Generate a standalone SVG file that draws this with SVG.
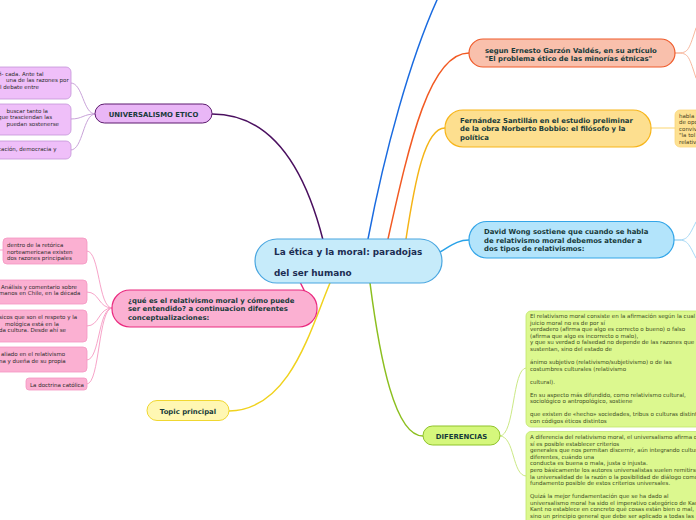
<svg xmlns="http://www.w3.org/2000/svg" width="696" height="520" viewBox="0 0 696 520">
<style>
.t{font-family:"DejaVu Sans",Verdana,sans-serif;font-weight:bold;fill:#173a3a;font-size:6.9px}
.c{font-family:"DejaVu Sans",Verdana,sans-serif;font-weight:bold;fill:#1c2d52;font-size:8.9px}
.s{font-family:"DejaVu Sans",Verdana,sans-serif;fill:#2b2b2b;font-size:5.5px}
.g{font-family:"DejaVu Sans",Verdana,sans-serif;fill:#3b4a22;font-size:5.55px}
.m{text-anchor:middle}
.cn path{fill:none;stroke-linecap:round}
</style>
<rect width="696" height="520" fill="#ffffff"/>
<g id="connectors" class="cn">
<path d="M323 240 C300 150 260 114 212 114" stroke="#4a0f5f" stroke-width="1.5"/>
<path d="M95 114 C83 114 83 83 71 83" stroke="#c9a3d9" stroke-width="1"/>
<path d="M95 114 C83 114 83 119 71 119" stroke="#c9a3d9" stroke-width="1"/>
<path d="M95 114 C83 114 83 150 71 150" stroke="#c9a3d9" stroke-width="1"/>
<path d="M300 282 L305 292" stroke="#ea2a7f" stroke-width="1.5"/>
<path d="M112 308 C98 308 100 251 87 251" stroke="#f7a4c9" stroke-width="1"/>
<path d="M112 308 C98 308 100 292 87 292" stroke="#f7a4c9" stroke-width="1"/>
<path d="M112 308 C98 308 100 326 87 326" stroke="#f7a4c9" stroke-width="1"/>
<path d="M112 308 C98 308 100 360 87 360" stroke="#f7a4c9" stroke-width="1"/>
<path d="M112 308 C98 308 100 384 87 384" stroke="#f7a4c9" stroke-width="1"/>
<path d="M0 250 L3 250" stroke="#f7a4c9" stroke-width="1"/>
<path d="M330 283 C310 330 290 410 229 411" stroke="#f0d21e" stroke-width="1.5"/>
<path d="M370 283 C380 360 395 436 423 436" stroke="#8cbf1f" stroke-width="1.5"/>
<path d="M500 436 C515 436 512 368 526 368" stroke="#cbe985" stroke-width="1"/>
<path d="M500 436 C515 436 512 476 526 476" stroke="#cbe985" stroke-width="1"/>
<path d="M368 239 C385 150 410 60 437 0" stroke="#1a6be0" stroke-width="1.5"/>
<path d="M388 239 C410 140 430 53 469 53" stroke="#f25a23" stroke-width="1.5"/>
<path d="M675 53 C688 53 688 53 696 28" stroke="#f8b79e" stroke-width="1"/>
<path d="M675 53 C688 53 688 53 696 78" stroke="#f8b79e" stroke-width="1"/>
<path d="M406 239 C415 180 425 128 445 128" stroke="#f5b416" stroke-width="1.5"/>
<path d="M651 128 L675 128" stroke="#fde3a0" stroke-width="1.5"/>
<path d="M440 252 C452 245 458 240 469 240" stroke="#29a2e8" stroke-width="1.5"/>
<path d="M674 240 C687 240 687 240 696 222" stroke="#a5d8f5" stroke-width="1"/>
<path d="M674 240 C687 240 687 240 696 258" stroke="#a5d8f5" stroke-width="1"/>
</g>
<g id="central">
<rect x="255" y="239" width="187" height="44" rx="22" fill="#c6ebfa" stroke="#49a6e0" stroke-width="1.2"/>
<text class="c" x="274" y="254.5">La ética y la moral: paradojas</text>
<text class="c" x="274" y="276">del ser humano</text>
</g>
<g id="universalismo">
<rect x="95" y="104" width="117" height="19" rx="9.5" fill="#e9b6f6" stroke="#5c1a6e" stroke-width="1"/>
<text class="t m" x="153.5" y="116.5">UNIVERSALISMO ETICO</text>
</g>
<g id="univ-leaf1">
<rect x="-60" y="67" width="131" height="32" rx="5" fill="#efbff9" stroke="#c495d8" stroke-width="0.8"/>
<text class="s" x="-2" y="76">fi- cada. Ante tal</text>
<text class="s" x="6" y="82">una de las razones por</text>
<text class="s" x="0" y="88.5">l debate entre</text>
</g>
<g id="univ-leaf2">
<rect x="-60" y="104" width="131" height="31" rx="5" fill="#efbff9" stroke="#c495d8" stroke-width="0.8"/>
<text class="s" x="6.5" y="113">buscar tanto la</text>
<text class="s" x="-2" y="119">que trasciendan las</text>
<text class="s" x="6.5" y="125.5">puedan sostenerse</text>
</g>
<g id="univ-leaf3">
<rect x="-60" y="141" width="131" height="18" rx="5" fill="#efbff9" stroke="#c495d8" stroke-width="0.8"/>
<text class="s" x="-2" y="150.5">cación, democracia y</text>
</g>
<g id="relativismo">
<rect x="112" y="290" width="205" height="37" rx="18" fill="#fbb0d2" stroke="#ea2a7f" stroke-width="1.2"/>
<text class="t" x="128" y="302.5">¿qué es el relativismo moral y cómo puede</text>
<text class="t" x="128" y="311">ser entendido? a continuacion diferentes</text>
<text class="t" x="128" y="319.5">conceptualizaciones:</text>
</g>
<g id="rel-leaf1">
<rect x="3" y="238" width="84" height="26" rx="4" fill="#fbb0d2" stroke="#f596c2" stroke-width="0.8"/>
<text class="s" x="7" y="246.5">dentro de la retórica</text>
<text class="s" x="7" y="253.5">norteamericana existen</text>
<text class="s" x="7" y="260.3">dos razones principales</text>
</g>
<g id="rel-leaf2">
<rect x="-60" y="280" width="147" height="24" rx="4" fill="#fbb0d2" stroke="#f596c2" stroke-width="0.8"/>
<text class="s" x="1" y="289">Análisis y comentario sobre</text>
<text class="s" x="-1" y="295.2">manos en Chile, en la década</text>
</g>
<g id="rel-leaf3">
<rect x="-60" y="310" width="147" height="32" rx="4" fill="#fbb0d2" stroke="#f596c2" stroke-width="0.8"/>
<text class="s" x="-1" y="319">sicos que  son el respeto y la</text>
<text class="s" x="5" y="325.7">mológica está en la</text>
<text class="s" x="-1" y="332">da cultura. Desde ahí se</text>
</g>
<g id="rel-leaf4">
<rect x="-60" y="347" width="147" height="25" rx="4" fill="#fbb0d2" stroke="#f596c2" stroke-width="0.8"/>
<text class="s" x="1" y="355.8">aliado en el relativismo</text>
<text class="s" x="-1" y="362.8">na y dueña de su propia</text>
</g>
<g id="rel-leaf5">
<rect x="26" y="378" width="61" height="12" rx="3" fill="#fbb0d2" stroke="#f596c2" stroke-width="0.8"/>
<text class="s" x="30" y="386.5">La doctrina católica</text>
</g>
<g id="topic">
<rect x="147" y="400.5" width="82" height="20" rx="10" fill="#fff7b3" stroke="#f0d730" stroke-width="1"/>
<text class="t m" x="188" y="413.5">Topic principal</text>
</g>
<g id="diferencias">
<rect x="423" y="426" width="77" height="19" rx="9.5" fill="#d5f77c" stroke="#8fc32a" stroke-width="1"/>
<text class="t m" x="461.5" y="438.5">DIFERENCIAS</text>
</g>
<g id="dif-a">
<rect x="526" y="311" width="200" height="116" rx="5" fill="#dcf88f" stroke="#c0e66b" stroke-width="0.8"/>
<text class="g" x="530" y="318">El relativismo moral consiste en la afirmación según la cual</text>
<text class="g" x="530" y="324.6">juicio moral no es de por sí</text>
<text class="g" x="530" y="331.1">verdadero (afirma que algo es correcto o bueno) o falso</text>
<text class="g" x="530" y="337.7">(afirma que algo es incorrecto o malo),</text>
<text class="g" x="530" y="344.2">y que su verdad o falsedad no depende de las razones que lo</text>
<text class="g" x="530" y="350.8">sustentan, sino del estado de</text>
<text class="g" x="530" y="363.9">ánimo subjetivo (relativismo/subjetivismo) o de las</text>
<text class="g" x="530" y="370.5">costumbres culturales (relativismo</text>
<text class="g" x="530" y="383.6">cultural).</text>
<text class="g" x="530" y="396.7">En su aspecto más difundido, como relativismo cultural,</text>
<text class="g" x="530" y="403.3">sociológico o antropológico, sostiene</text>
<text class="g" x="530" y="416.4">que existen de «hecho» sociedades, tribus o culturas distintas</text>
<text class="g" x="530" y="423">con códigos éticos distintos</text>
</g>
<g id="dif-b">
<rect x="526" y="431.5" width="200" height="120" rx="5" fill="#dcf88f" stroke="#c0e66b" stroke-width="0.8"/>
<text class="g" x="530" y="439">A diferencia del relativismo moral, el universalismo afirma que</text>
<text class="g" x="530" y="445.6">sí es posible establecer criterios</text>
<text class="g" x="530" y="452.2"> generales que nos permitan discernir, aún integrando culturas</text>
<text class="g" x="530" y="458.7">diferentes, cuándo una</text>
<text class="g" x="530" y="465.3">conducta es buena o mala, justa o injusta.</text>
<text class="g" x="530" y="471.9">pero básicamente los autores universalistas suelen remitirse a</text>
<text class="g" x="530" y="478.5">la universalidad de la razón o la posibilidad de diálogo como</text>
<text class="g" x="530" y="485.1">fundamento posible de estos criterios universales.</text>
<text class="g" x="530" y="498.2">Quizá la mejor fundamentación que se ha dado al</text>
<text class="g" x="530" y="504.8">universalismo moral ha sido el imperativo categórico de Kant</text>
<text class="g" x="530" y="511.4">Kant no establece en concreto qué cosas están bien o mal,</text>
<text class="g" x="530" y="518">sino un principio general que debe ser aplicado a todas las</text>
</g>
<g id="garzon">
<rect x="469" y="39" width="206" height="28" rx="14" fill="#f9c0ac" stroke="#ef5b2b" stroke-width="1.2"/>
<text class="t" x="485" y="52.5">segun Ernesto Garzón Valdés, en su artículo</text>
<text class="t" x="485" y="61">"El problema ético de las minorías étnicas"</text>
</g>
<g id="fernandez">
<rect x="445" y="110" width="206" height="37" rx="18" fill="#fddf8f" stroke="#f7b51b" stroke-width="1.2"/>
<text class="t" x="460" y="122.5">Fernández Santillán en el estudio preliminar</text>
<text class="t" x="460" y="131.3">de la obra Norberto Bobbio: el filósofo y la</text>
<text class="t" x="460" y="140">política</text>
</g>
<g id="fernandez-leaf">
<rect x="675" y="110" width="40" height="37" rx="5" fill="#fde192" stroke="#fbd67b" stroke-width="0.8"/>
<text class="s" x="679" y="118" style="fill:#4a3f20">habla</text>
<text class="s" x="679" y="124.4" style="fill:#4a3f20">de opo</text>
<text class="s" x="679" y="130.8" style="fill:#4a3f20">convivi</text>
<text class="s" x="679" y="137.2" style="fill:#4a3f20">"la tol</text>
<text class="s" x="679" y="143.6" style="fill:#4a3f20">relativ</text>
</g>
<g id="wong">
<rect x="469" y="221.5" width="205" height="36.5" rx="18" fill="#b3e4fb" stroke="#33a5e8" stroke-width="1.2"/>
<text class="t" x="484" y="234.3">David Wong sostiene que cuando se habla</text>
<text class="t" x="484" y="242.8">de relativismo moral debemos atender a</text>
<text class="t" x="484" y="251">dos tipos de relativismos:</text>
</g>
</svg>
